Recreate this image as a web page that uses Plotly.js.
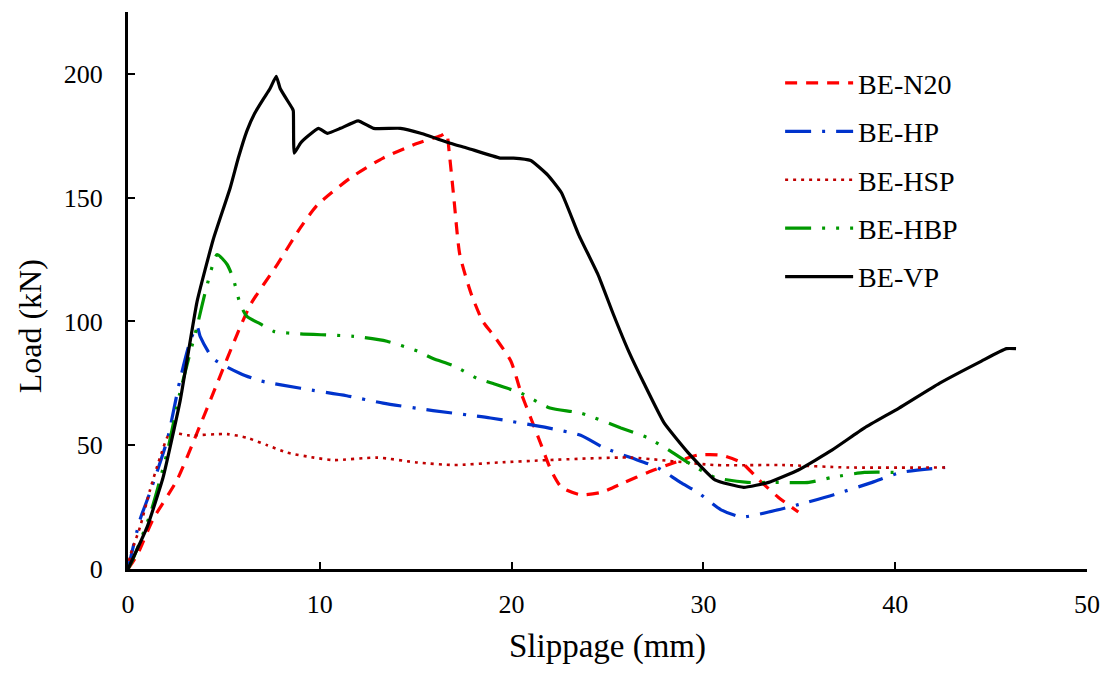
<!DOCTYPE html>
<html>
<head>
<meta charset="utf-8">
<script src="https://cdn.plot.ly/plotly-3.0.1.min.js"></script>
<style>html,body{margin:0;padding:0;background:#fff;}#chart{width:1106px;height:675px;}</style>
</head>
<body>
<div id="chart"></div>
<script>
// BE-N20 (red dashed)
const n20_x = [0, 0.5, 1.3, 2.56, 3.6, 4.65, 5.7, 6.4, 7.78, 9.0, 9.87, 11.6, 13.3, 15.1, 16.3, 16.6, 16.75, 17.0, 17.3, 17.9, 18.5, 19.1, 19.96, 20.5, 21.0, 21.5, 22.05, 22.6, 23.6, 24.7, 25.9, 27.1, 28.5, 29.7, 30.9, 31.98, 32.9, 33.9, 34.95];
const n20_y = [0, 6, 20, 36, 55, 75, 95, 107, 123, 138, 147, 158, 166, 172, 175, 176, 168, 149, 127, 111, 100, 94, 84, 71, 61, 51, 40, 33, 30, 31, 35, 39, 43, 46, 46, 43, 36, 29, 23];
// BE-HP (blue dash-dot)
const hp_x = [0, 0.63, 1.15, 2.04, 2.7, 3.24, 3.6, 3.76, 4.44, 5.85, 6.9, 9.0, 11.4, 13.3, 15.9, 18.9, 21.9, 23.6, 24.8, 26.2, 27.6, 28.8, 29.7, 30.9, 31.98, 33.4, 34.95, 36.8, 38.8, 40.3, 42.6];
const hp_y = [0, 20, 31, 52, 76, 92, 98, 94, 85, 79, 76, 73, 70, 67, 64, 61, 57, 54, 49, 45, 41, 35, 31, 24, 21, 23, 26, 30, 35, 39, 41];
// BE-HSP (dark red dotted)
const hsp_x = [0, 0.1, 0.63, 1.15, 1.67, 2.2, 3.1, 5.17, 6.2, 7.26, 8.3, 9.7, 10.7, 13.0, 15.1, 17.0, 19.3, 21.9, 26.2, 30.6, 34.1, 37.6, 42.6];
const hsp_y = [0, 5, 17, 32, 45, 55, 54, 54.5, 53, 50, 47, 45, 44, 45, 43, 42, 43, 44, 45, 42, 42, 41, 41];
// BE-HBP (green dash-dot-dot)
const hbp_x = [0, 0.26, 1.15, 2.04, 2.7, 3.6, 4.1, 4.65, 5.17, 5.5, 5.85, 6.2, 6.9, 7.6, 9.0, 11.76, 13.5, 15.1, 15.9, 17.0, 18.2, 19.0, 20.5, 22.0, 23.6, 25.7, 27.1, 28.2, 29.2, 30.6, 32.3, 33.7, 35.5, 36.7, 38.4, 40.3];
const hbp_y = [0, 4, 22, 47, 71, 98, 114, 127, 123, 117, 107, 102, 99, 96, 95, 94, 92, 88, 85, 82, 77, 75, 71, 65, 63, 57, 53, 48, 43, 37, 35, 35, 35, 37, 39, 39];
// BE-VP (black solid)
const vp_x = [0, 1.0, 1.83, 2.72, 3.6, 4.44, 5.33, 5.75, 6.2, 6.6, 7.07, 7.4, 7.73, 7.94, 8.57, 8.62, 8.67, 8.99, 9.4, 9.93, 10.4, 11.08, 12.0, 12.8, 14.2, 15.26, 16.8, 17.7, 19.4, 20.1, 21.0, 21.9, 22.6, 23.5, 24.5, 25.3, 26.1, 26.9, 27.95, 29.2, 30.6, 32.1, 33.4, 34.95, 36.7, 38.4, 40.2, 42.3, 44.5, 45.8, 46.3];
const vp_y = [0, 17, 37, 68, 108, 133, 154, 166, 177, 184, 190, 194, 199, 194, 186, 185, 168, 172, 175, 178, 176, 178, 181, 178, 178, 176, 172, 170, 166, 166, 165, 159, 152, 135, 119, 103, 88, 75, 59, 47, 36, 33, 35, 40, 48, 57, 65, 75, 84, 89, 89];

const seriesNames = ['BE-N20', 'BE-HP', 'BE-HSP', 'BE-HBP', 'BE-VP'];
const xTicks = [0, 10, 20, 30, 40, 50];
const yTicks = [0, 50, 100, 150, 200];
const xTitle = 'Slippage (mm)';
const yTitle = 'Load (kN)';

const FONT = 'Liberation Serif, Times New Roman, serif';

function tr(x, y, name, color, dash, width, smoothing) {
  return {
    x: x, y: y, name: name, type: 'scatter', mode: 'lines',
    legendgroup: name,
    line: {color: color, dash: dash, width: width, shape: 'spline', smoothing: smoothing}
  };
}

const data = [
  tr(n20_x, n20_y, seriesNames[0], '#FF0000', '12px,9px', 3.2, 0.6),
  tr(hp_x, hp_y, seriesNames[1], '#0033CC', '26px,11px,3px,11px', 3.2, 0.6),
  tr(hsp_x, hsp_y, seriesNames[2], '#C00000', '3px,5px', 2.6, 0.6),
  tr(hbp_x, hbp_y, seriesNames[3], '#009900', '26px,11px,3px,11px,3px,11px', 3.2, 0.6),
  tr(vp_x, vp_y, seriesNames[4], '#000000', 'solid', 3.2, 0.4)
];

const layout = {
  width: 1106, height: 675,
  margin: {l: 128, r: 19, t: 12, b: 106},
  paper_bgcolor: '#fff', plot_bgcolor: '#fff',
  font: {family: FONT, color: '#000', size: 26},
  showlegend: true,
  legend: {
    x: 0.68, y: 0.917, xanchor: 'left', yanchor: 'top',
    font: {family: FONT, size: 28, color: '#000'},
    traceorder: 'grouped', tracegroupgap: 9,
    bgcolor: 'rgba(0,0,0,0)', itemwidth: 68
  },
  xaxis: {
    range: [0, 50], tickvals: xTicks, ticktext: xTicks.map(String),
    ticks: 'inside', ticklen: 7, tickwidth: 2, tickcolor: '#000',
    showline: true, linewidth: 3, linecolor: '#000', showgrid: false, zeroline: false,
    tickfont: {family: FONT, size: 26}, ticklabelstandoff: 10,
    title: {text: xTitle, font: {family: FONT, size: 33}, standoff: 16}
  },
  yaxis: {
    range: [0, 225], tickvals: yTicks, ticktext: yTicks.map(String),
    ticks: 'inside', ticklen: 7, tickwidth: 2, tickcolor: '#000',
    showline: true, linewidth: 3, linecolor: '#000', showgrid: false, zeroline: false,
    tickfont: {family: FONT, size: 26}, ticklabelstandoff: 17
  },
  annotations: [{
    text: yTitle, textangle: -90, showarrow: false,
    xref: 'paper', yref: 'paper', x: -0.102, y: 0.436,
    xanchor: 'center', yanchor: 'middle',
    font: {family: FONT, size: 32, color: '#000'}
  }]
};

Plotly.newPlot('chart', data, layout, {displayModeBar: false, staticPlot: true});
</script>
</body>
</html>
